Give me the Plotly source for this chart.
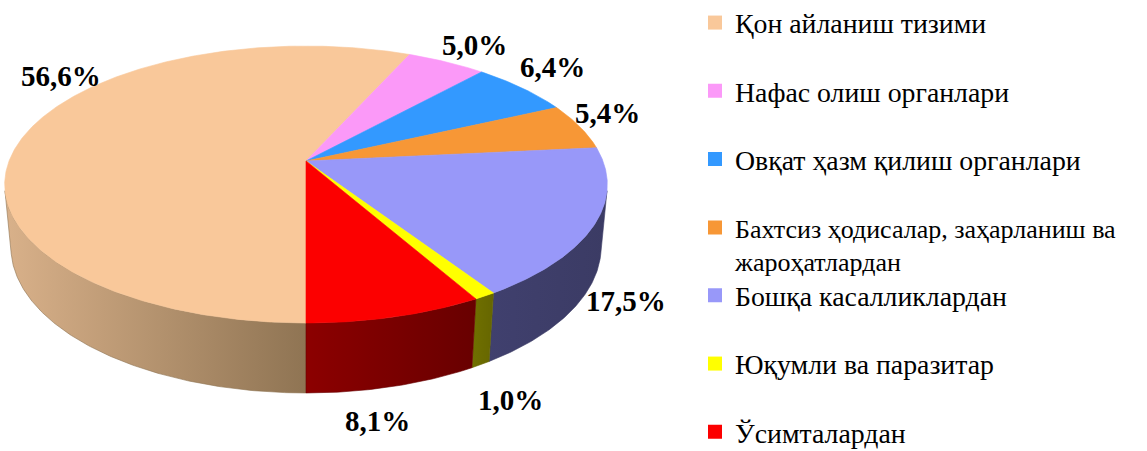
import numpy as np
import plotly.graph_objects as go

# ---------------- data ----------------
categories = [
    "Қон айланиш тизими",
    "Нафас олиш органлари",
    "Овқат ҳазм қилиш органлари",
    "Бахтсиз ҳодисалар, заҳарланиш ва<br>жароҳатлардан",
    "Бошқа касалликлардан",
    "Юқумли ва паразитар",
    "Ўсимталардан",
]
values = [56.6, 5.0, 6.4, 5.4, 17.5, 1.0, 8.1]
value_labels = [f"{v:.1f}%".replace(".", ",") for v in values]

# ---------------- styles ----------------
top_colors = ["#f9c89a", "#fb99f8", "#3399ff", "#f79736", "#9898f9", "#ffff00", "#fc0000"]
side_colors = [
    ["#d9b18a", "#8f7453"],
    ["#a05fa0", "#8a508a"],
    ["#1f5fa0", "#1a508a"],
    ["#a0601f", "#8a501a"],
    ["#40406e", "#3b3b64"],
    ["#707000", "#666600"],
    ["#8c0000", "#680000"],
]
label_pos = [(61, 76), (474, 45), (552, 67), (607, 113), (626, 301), (510, 400), (377, 421)]
FONT = "Liberation Serif, Times New Roman, Times, serif"

W, H_PX = 1147, 451
CX, CY = 306.0, 161.0      # projected pie centre (px)
F = 1559.0                  # focal scale
D = 5.25                    # camera distance (radius units)
SPHI = 0.4529
PHI = np.arcsin(SPHI)
CPHI = np.cos(PHI)
THICK = 0.2374


def proj(theta_deg, z):
    t = np.radians(np.asarray(theta_deg, dtype=float))
    x = np.sin(t)
    y = np.cos(t)
    depth = D + y * CPHI - z * SPHI
    X = CX + F * x / depth
    Y = CY - F * (y * SPHI + z * CPHI) / depth
    return X, Y


fig = go.Figure()

# slice angles, clockwise from 6 o'clock
total = float(sum(values))
starts, ends = [], []
acc = 180.0
for v in values:
    starts.append(acc)
    acc += v / total * 360.0
    ends.append(acc)

# visible part of the outer wall
tv1 = np.degrees(np.arccos(-1.0 / (D * CPHI)))
tv2 = 360.0 - tv1

# walls
for i, (a, b) in enumerate(zip(starts, ends)):
    for shift in (-360.0, 0.0, 360.0):
        lo = max(a + shift, tv1)
        hi = min(b + shift, tv2)
        if hi <= lo:
            continue
        th = np.linspace(lo, hi, max(8, int((hi - lo) * 2)))
        xt, yt = proj(th, 0.0)
        xb, yb = proj(th[::-1], -THICK)
        xs = np.concatenate([xt, xb, xt[:1]])
        ys = np.concatenate([yt, yb, yt[:1]])
        fig.add_trace(go.Scatter(
            x=xs, y=ys, mode="lines", fill="toself",
            line=dict(width=0.6, color=side_colors[i][1]),
            fillgradient=dict(type="horizontal",
                              colorscale=[[0, side_colors[i][0]], [1, side_colors[i][1]]]),
            showlegend=False, hoverinfo="skip",
        ))

# top faces
for i, (a, b) in enumerate(zip(starts, ends)):
    th = np.linspace(a, b, max(6, int((b - a) * 2)))
    xa, ya = proj(th, 0.0)
    xs = np.concatenate([[CX], xa, [CX]])
    ys = np.concatenate([[CY], ya, [CY]])
    fig.add_trace(go.Scatter(
        x=xs, y=ys, mode="lines", fill="toself",
        fillcolor=top_colors[i], line=dict(width=0.6, color=top_colors[i]),
        showlegend=False, hoverinfo="skip", name=categories[i],
    ))

# value labels
for i, txt in enumerate(value_labels):
    fig.add_annotation(
        x=label_pos[i][0], y=label_pos[i][1], text=f"<b>{txt}</b>", showarrow=False,
        xanchor="center", yanchor="middle",
        font=dict(family=FONT, size=29, color="black"),
    )

# legend (one legend box per entry to reproduce the even spacing)
leg_centers = [23 + 68.2 * k for k in range(len(categories))]
layout_legends = {}
for i, cat in enumerate(categories):
    key = "legend" if i == 0 else f"legend{i + 1}"
    two_line = "<br>" in cat
    fs = 26 if two_line else 27.8
    fig.add_trace(go.Scatter(
        x=[None], y=[None], mode="markers",
        marker=dict(symbol="square", size=14, color=top_colors[i]),
        name=cat, legend=key, showlegend=True,
    ))
    layout_legends[key] = dict(
        x=(735 - 40) / W, xanchor="left",
        y=1 - (leg_centers[i] + (17 if two_line else 0)) / H_PX, yanchor="middle",
        valign="top",
        bgcolor="rgba(0,0,0,0)", borderwidth=0,
        font=dict(family=FONT, size=fs, color="black"),
        itemclick=False, itemdoubleclick=False,
    )

fig.update_layout(
    width=W, height=H_PX,
    margin=dict(l=0, r=0, t=0, b=0, pad=0, autoexpand=False),
    paper_bgcolor="white", plot_bgcolor="white",
    xaxis=dict(range=[0, W], visible=False, fixedrange=True),
    yaxis=dict(range=[H_PX, 0], visible=False, fixedrange=True),
    **layout_legends,
)

fig.write_html(
    "out.html",
    config={"displayModeBar": False},
    post_script="document.body.style.margin='0';document.body.style.overflow='hidden';",
)
